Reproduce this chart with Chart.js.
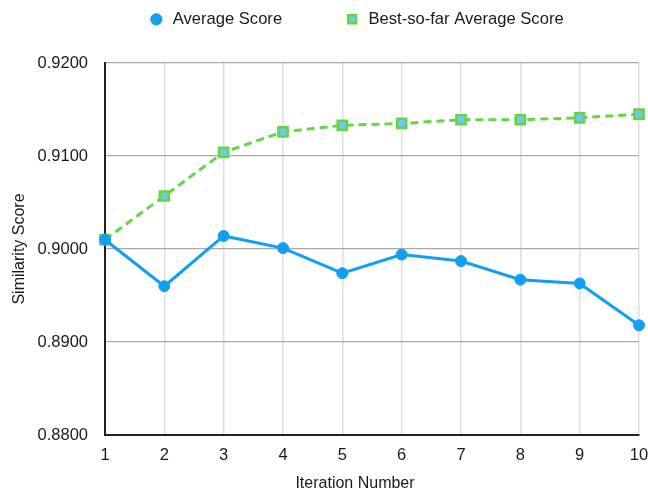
<!DOCTYPE html>
<html>
<head>
<meta charset="utf-8">
<script src="https://cdn.jsdelivr.net/npm/chart.js@4.4.1/dist/chart.umd.min.js"></script>
<style>
  html, body { margin: 0; padding: 0; background: #ffffff; overflow: hidden; }
  #wrap { width: 648px; height: 493px; }
</style>
</head>
<body>
<div id="wrap"><canvas id="c" width="648" height="493"></canvas></div>
<script>
const iterations = ['1', '2', '3', '4', '5', '6', '7', '8', '9', '10'];
const averageScore = [0.9010, 0.8960, 0.9014, 0.9001, 0.8974, 0.8994, 0.8987, 0.8967, 0.8963, 0.8918];
const bestSoFarScore = [0.9010, 0.9057, 0.9104, 0.9126, 0.9133, 0.9135, 0.9139, 0.9139, 0.9141, 0.9145];
const yTickValues = [0.88, 0.89, 0.90, 0.91, 0.92];
const xTitle = 'Iteration Number';
const yTitle = 'Similarity Score';

const FONT = '"Liberation Sans", Arial, Helvetica, sans-serif';
const BLUE = '#129ff2';
const GREEN = '#66d444';
const CYAN = '#72c9ee';

const layoutFix = {
  id: 'layoutFix',
  afterInit(chart) {
    const lg = chart.legend;
    if (lg && !lg._wrapped) {
      const orig = lg.fit;
      lg.fit = function () { orig.call(this); this.height = 114; };
      lg._wrapped = true;
    }
  },
  afterDraw(chart) {
    const ctx = chart.ctx;
    ctx.save();
    ctx.font = '16px ' + FONT;
    ctx.fillStyle = '#1a1a1a';
    ctx.textAlign = 'center';
    ctx.textBaseline = 'middle';
    ctx.fillText(xTitle, 355, 484);
    ctx.restore();
  }
};

new Chart(document.getElementById('c'), {
  type: 'line',
  data: {
    labels: iterations,
    datasets: [
      {
        label: 'Average Score',
        data: averageScore,
        borderColor: BLUE,
        backgroundColor: BLUE,
        borderWidth: 3,
        pointStyle: 'circle',
        pointRadius: 5.5,
        pointBorderWidth: 1,
        pointBackgroundColor: BLUE,
        pointBorderColor: BLUE,
        tension: 0,
        clip: false
      },
      {
        label: 'Best-so-far Average Score',
        data: bestSoFarScore,
        borderColor: GREEN,
        backgroundColor: CYAN,
        borderWidth: 3,
        borderDash: [8, 5],
        pointStyle: 'rect',
        pointRadius: 6.5,
        pointBorderWidth: 2.5,
        pointBackgroundColor: CYAN,
        pointBorderColor: GREEN,
        tension: 0,
        clip: false
      }
    ]
  },
  options: {
    responsive: false,
    animation: false,
    devicePixelRatio: 1,
    layout: { padding: { top: -51, left: 10, right: -54, bottom: 0 } },
    plugins: {
      legend: {
        position: 'top',
        labels: {
          usePointStyle: true,
          boxWidth: 16,
          boxHeight: 8,
          padding: 62,
          color: '#1a1a1a',
          font: { family: FONT, size: 16.6 }
        }
      },
      tooltip: { enabled: false }
    },
    scales: {
      x: {
        type: 'category',
        offset: false,
        grid: { color: '#dedede', lineWidth: 1.5, drawTicks: false },
        border: { display: true, color: '#222222', width: 2 },
        ticks: { color: '#1a1a1a', padding: 11, font: { family: FONT, size: 16.5 }, maxRotation: 0 },
        afterFit(s) { s.height = 58; s.paddingRight = 0; s.paddingLeft = 0; }
      },
      y: {
        type: 'linear',
        min: 0.88,
        max: 0.92,
        afterBuildTicks(s) { s.ticks = yTickValues.map(v => ({ value: v })); },
        grid: { color: '#a9a9a9', lineWidth: 1.2, drawTicks: false },
        border: { display: true, color: '#222222', width: 2 },
        ticks: {
          color: '#1a1a1a',
          padding: 17,
          font: { family: FONT, size: 16.5 },
          callback: v => Number(v).toFixed(4)
        },
        title: {
          display: true,
          text: yTitle,
          color: '#1a1a1a',
          padding: { top: 0, bottom: 0 },
          font: { family: FONT, size: 16 }
        },
        afterFit(s) { s.width = 95; }
      },
      y2: {
        type: 'linear',
        position: 'right',
        display: true,
        grid: { display: false, drawTicks: false },
        border: { display: false },
        ticks: { display: false },
        afterFit(s) { s.width = 51; }
      }
    }
  },
  plugins: [layoutFix]
});
</script>
</body>
</html>
